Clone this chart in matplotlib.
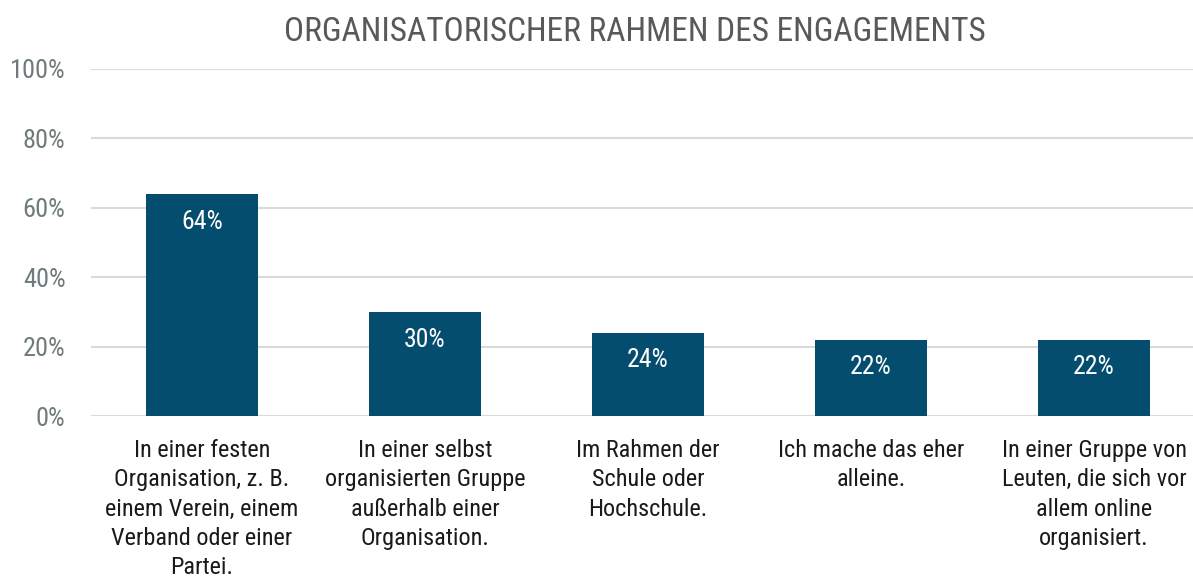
import matplotlib.pyplot as plt

categories = [
    "In einer festen\nOrganisation, z. B.\neinem Verein, einem\nVerband oder einer\nPartei.",
    "In einer selbst\norganisierten Gruppe\naußerhalb einer\nOrganisation.",
    "Im Rahmen der\nSchule oder\nHochschule.",
    "Ich mache das eher\nalleine.",
    "In einer Gruppe von\nLeuten, die sich vor\nallem online\norganisiert.",
]
values = [64, 30, 24, 22, 22]
yticks = [0, 20, 40, 60, 80, 100]

# narrow sans, like the Arial Narrow of the original
plt.rcParams["font.family"] = ["Roboto Condensed", "Archivo Narrow", "Liberation Sans", "DejaVu Sans"]

bar_color = "#044D6E"

fig = plt.figure(figsize=(11.93, 5.81), dpi=100)
ax = fig.add_axes([90.5 / 1193, 1 - 416 / 581, 1115 / 1193, 347 / 581])

x = list(range(len(values)))
ax.bar(x, values, width=0.502, color=bar_color, zorder=3)

for xi, v in zip(x, values):
    ax.text(xi, v - 8, f"{v}%", ha="center", va="center", color="white", fontsize=18.5, zorder=4)

for xi, lab in zip(x, categories):
    ax.text(xi, -6.5, lab, ha="center", va="top", fontsize=17.5, color="#1a1a1a",
            linespacing=1.36, clip_on=False)

ax.set_xlim(-0.5, 4.5)
ax.set_ylim(0, 100)
ax.set_yticks(yticks)
ax.set_yticklabels([f"{t}%" for t in yticks], fontsize=19, color="#6f7a7a")
ax.set_xticks([])
ax.tick_params(axis="y", length=0, pad=18)
ax.grid(axis="y", color="#d9d9d9", linewidth=1.5, zorder=0)
for s in ax.spines.values():
    s.set_visible(False)

fig.text(635 / 1193, 1 - 32 / 581, "ORGANISATORISCHER RAHMEN DES ENGAGEMENTS",
         ha="center", va="center", fontsize=24, color="#595959")

fig.savefig("out.png", dpi=100)
